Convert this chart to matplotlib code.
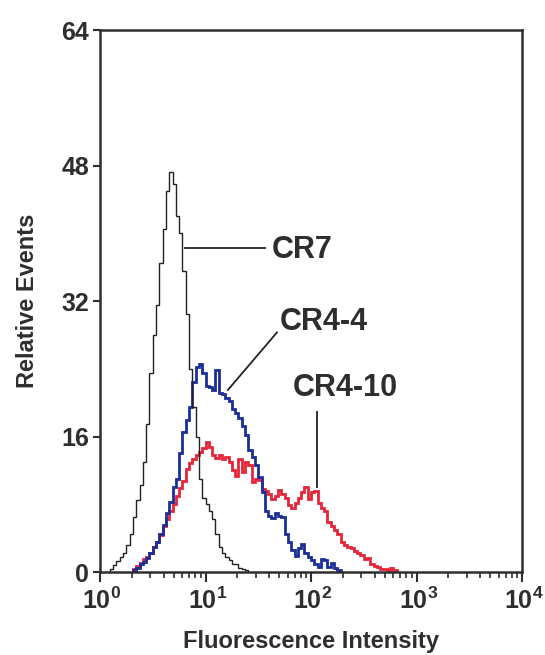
import numpy as np
import matplotlib
matplotlib.use("Agg")
import matplotlib.pyplot as plt
from matplotlib.transforms import ScaledTranslation

# histogram counts, one value per channel (32 channels per decade)
channels_per_decade = 32

cr7_start = 3
cr7_counts = [0.3, 0.8, 1.3, 1.8, 2.2, 3.2, 4.5, 6.5, 8.5, 10.3, 13.0, 17.5, 23.5, 28.0,
              31.5, 36.5, 40.5, 45.0, 47.3, 45.8, 42.0, 40.0, 35.5, 30.5, 24.0, 19.5,
              16.0, 11.0, 8.8, 8.0, 7.2, 6.3, 4.5, 3.0, 2.2, 1.8, 1.4, 1.0, 1.0, 0.5,
              0.4, 0.2]

cr44_start = 10
cr44_counts = [0.2, 0.5, 0.9, 1.2, 1.6, 2.2, 2.9, 3.6, 4.5, 5.5, 7.0, 8.3, 10.0, 11.0,
               14.0, 16.5, 18.0, 19.5, 22.5, 24.2, 24.6, 23.5, 22.0, 21.8, 21.5, 23.8,
               21.2, 21.0, 20.6, 20.2, 19.3, 18.8, 18.2, 17.2, 16.2, 14.4, 13.6, 12.6,
               11.2, 9.4, 7.2, 6.6, 6.4, 7.0, 6.6, 6.5, 4.5, 3.6, 2.6, 1.9, 2.8, 3.3,
               2.3, 1.8, 1.4, 0.9, 0.6, 1.5, 1.4, 0.6, 1.1, 0.5, 0.2]

cr410_start = 10
cr410_counts = [0.3, 0.7, 1.1, 1.5, 1.8, 2.2, 2.9, 3.6, 4.4, 5.4, 6.3, 7.2, 8.0, 9.0,
                9.9, 10.8, 12.2, 12.9, 13.4, 13.8, 14.2, 14.6, 15.4, 14.8, 13.8, 13.5,
                13.8, 13.4, 13.6, 13.0, 12.0, 11.3, 13.4, 11.8, 13.0, 12.6, 10.6, 11.0,
                10.9, 9.8, 9.6, 9.2, 8.6, 9.0, 9.7, 9.2, 8.8, 7.9, 7.6, 8.1, 8.8, 9.5,
                10.0, 8.6, 9.4, 9.6, 8.2, 7.6, 7.2, 5.9, 5.4, 5.0, 4.5, 3.6, 3.2, 3.0,
                2.8, 2.5, 2.3, 2.0, 1.5, 1.6, 1.0, 0.7, 0.6, 0.4, 0.3, 0.2, 0.5, 0.2]

y_ticks = [0, 16, 32, 48, 64]
x_ticks = [1, 10, 100, 1000, 10000]
x_ticklabels = [r"$10^{0}$", r"$10^{1}$", r"$10^{2}$", r"$10^{3}$", r"$10^{4}$"]

plt.rcParams["font.family"] = ["Liberation Sans", "DejaVu Sans"]
plt.rcParams["font.weight"] = "bold"
plt.rcParams["mathtext.fontset"] = "custom"
plt.rcParams["mathtext.rm"] = "Liberation Sans:bold"
plt.rcParams["mathtext.it"] = "Liberation Sans:bold"
plt.rcParams["mathtext.bf"] = "Liberation Sans:bold"

ink = "#2e2e2e"


def edges(start, counts):
    k = np.arange(start, start + len(counts) + 1)
    return 10.0 ** (k / channels_per_decade)


fig = plt.figure(figsize=(5.45, 6.55), dpi=100)
ax = fig.add_axes([0.1835, 0.1267, 0.7743, 0.8273])

ax.stairs(cr410_counts, edges(cr410_start, cr410_counts), color="#e5263a", lw=2.0)
ax.stairs(cr44_counts, edges(cr44_start, cr44_counts), color="#1c2f96", lw=2.0)
ax.stairs(cr7_counts, edges(cr7_start, cr7_counts), color="#222222", lw=1.0)

ax.set_xscale("log")
ax.set_xlim(1, 10000)
ax.set_ylim(0, 64)
ax.set_yticks(y_ticks)
ax.set_xticks(x_ticks)
ax.set_xticklabels(x_ticklabels)
ax.tick_params(axis="both", colors=ink, labelsize=18, width=1.5, length=5)
ax.tick_params(axis="x", which="major", length=7)
ax.tick_params(axis="x", which="minor", length=4, width=1.2, colors=ink)
ax.tick_params(axis="x", pad=4)
ax.tick_params(axis="y", pad=3)
# nudge so the "10" sits closer under the tick, exponent hanging right
shift = ScaledTranslation(2 / 100, 0, fig.dpi_scale_trans)
for lab in ax.get_xticklabels():
    lab.set_transform(lab.get_transform() + shift)
for s in ax.spines.values():
    s.set_linewidth(1.8)
    s.set_color(ink)

ax.set_ylabel("Relative Events", fontsize=17, fontweight="bold", color=ink, labelpad=16)
ax.set_xlabel("Fluorescence Intensity", fontsize=17, fontweight="bold", color=ink, labelpad=12)

# labels for the three curves
ax.plot([6.4, 36.6], [38.3, 38.3], color="#222222", lw=1.3)
ax.text(42.7, 38.0, "CR7", fontsize=22, fontweight="bold", color=ink, va="center")
ax.plot([16.3, 47.6], [21.5, 28.3], color="#222222", lw=1.3)
ax.text(50.8, 29.5, "CR4-4", fontsize=22, fontweight="bold", color=ink, va="center")
ax.plot([114, 114], [10.0, 18.9], color="#222222", lw=1.3)
ax.text(67.5, 21.7, "CR4-10", fontsize=22, fontweight="bold", color=ink, va="center")

fig.savefig("out.png", dpi=100)
